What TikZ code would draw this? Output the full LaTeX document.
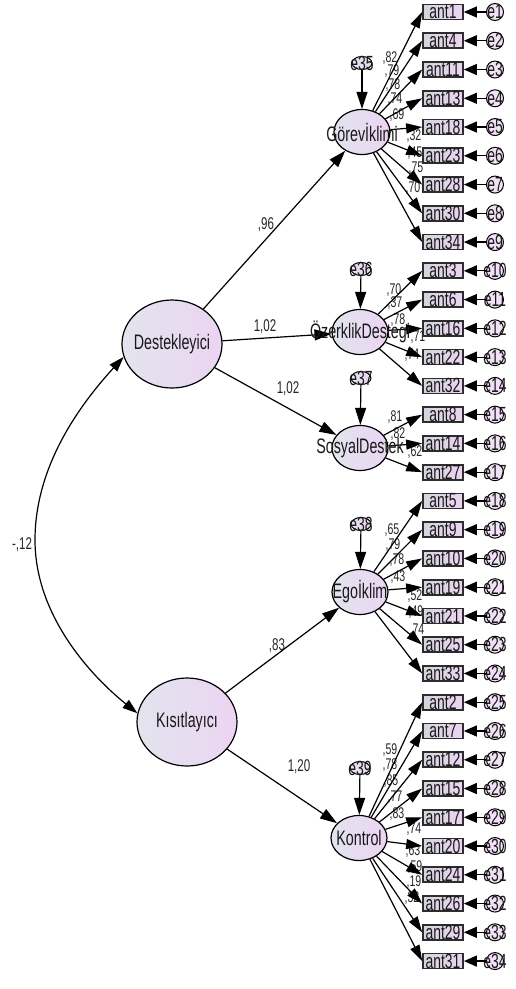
\documentclass[tikz,border=0pt]{standalone}
\usepackage{fontspec}
\setmainfont{Liberation Sans}
\newfontfamily\amos{Liberation Sans}[FakeStretch=0.68]
\usetikzlibrary{shapes.geometric,arrows.meta}
\definecolor{shadeL}{RGB}{226,228,238}
\definecolor{shadeR}{RGB}{236,212,242}
\definecolor{boxedge}{RGB}{45,45,45}

\begin{document}
\begin{tikzpicture}[x=1pt,y=-1pt,
  latent/.style={ellipse,draw=black,line width=1.2pt,left color=shadeL,right color=shadeR,inner sep=0pt},
  smallfac/.style={latent,minimum width=56pt,minimum height=45pt},
  bigfac/.style={latent,minimum width=100pt,minimum height=88pt},
  resid/.style={ellipse,draw=black,line width=1pt,left color=shadeL,right color=shadeR,inner sep=0pt,minimum width=20pt,minimum height=13pt},
  indbox/.style={rectangle,draw=boxedge,line width=1.7pt,left color=shadeL!85!gray,right color=shadeR,inner sep=0pt,minimum width=40pt,minimum height=15pt},
  errc/.style={circle,draw=black,line width=1pt,fill=shadeR!70!white,inner sep=0pt,minimum size=17pt},
  latname/.style={font=\amos\fontsize{21}{23}\selectfont,inner sep=0pt,text=black!90},
  itemtxt/.style={font=\amos\fontsize{20.5}{22}\selectfont,inner sep=0pt,text=black!90},
  loadtxt/.style={font=\amos\fontsize{15.5}{17}\selectfont,inner sep=0pt,text=black!85},
  pathtxt/.style={font=\amos\fontsize{17}{19}\selectfont,inner sep=0pt,text=black!85},
  load/.style={line width=1.2pt,-{Triangle[length=16pt,width=10pt]}},
  reg/.style={line width=1.2pt,-{Triangle[length=17pt,width=11pt]}},
  errarrow/.style={line width=1.2pt,-{Triangle[length=13pt,width=11pt]}},
  cov/.style={line width=1.2pt,{Triangle[length=15pt,width=10pt]}-{Triangle[length=15pt,width=10pt]}}
]
\useasboundingbox (0,0) rectangle (515,989);

% standardised loadings, set first so the arrows run over them
\foreach \t/\x/\y [count=\n] in {
  82/390/58, 79/392/71, 78/393/85, 74/395/99, 69/397/115,
  32/414/136, 45/415/153, 75/416/168, 70/413/188,
  70/394/290, 37/395/303, 78/398/320, 71/418/337, 74/412/355,
  81/395/417, 82/398/434, 62/415/452,
  65/392/530, 79/393/545, 78/397/560, 43/398/577, 52/415/596, 49/416/612, 74/417/630,
  59/390/750, 78/390/765, 85/391/781, 77/395/797, 83/397/814,
  74/414/829, 63/413/851, 59/415/867, 19/414/882, 32/412/898}
  \node[loadtxt] (ld\n) at (\x,\y) {,\t};

% first-order factors
\node[smallfac] (gor) at (362,132) {};
\node[smallfac] (ozk) at (360,332) {};
\node[smallfac] (sos) at (360,448) {};
\node[smallfac] (ego) at (360,592) {};
\node[smallfac] (kon) at (359,838) {};

% second-order factors
\node[bigfac] (des) at (172,344) {};
\node[bigfac] (kis) at (187,722) {};

% disturbances of the first-order factors
\node[resid] (r35) at (362,63) {};
\node[resid] (r36) at (361,269) {};
\node[resid] (r37) at (361,378) {};
\node[resid] (r38) at (361,524) {};
\node[resid] (r39) at (360,768) {};
\foreach \r in {35,...,39} \node[itemtxt] (rt\r) at (r\r) {e\r};

% observed items and their error terms
\foreach \i [count=\k] in {1,4,11,13,18,23,28,30,34,3,6,16,22,32,8,14,27,5,9,10,19,21,25,33,2,7,12,15,17,20,24,26,29,31} {
  \pgfmathsetmacro\yy{12+(\k-1)*28.76}
  \node[indbox] (b\k) at (443,\yy) {};
  \node[itemtxt] (bt\k) at (b\k) {ant\i};
  \node[errc] (c\k) at (495,\yy) {};
  \node[itemtxt] (ct\k) at (c\k) {e\k};
  \draw[errarrow] (c\k) -- (b\k);
}

% factor loadings
\foreach \k in {1,...,9}   \draw[load] (gor) -- (b\k.west);
\foreach \k in {10,...,14} \draw[load] (ozk) -- (b\k.west);
\foreach \k in {15,16,17}  \draw[load] (sos) -- (b\k.west);
\foreach \k in {18,...,24} \draw[load] (ego) -- (b\k.west);
\foreach \k in {25,...,34} \draw[load] (kon) -- (b\k.west);

% disturbance paths
\draw[reg] (r35) -- (gor);
\draw[reg] (r36) -- (ozk);
\draw[reg] (r37) -- (sos);
\draw[reg] (r38) -- (ego);
\draw[reg] (r39) -- (kon);

% structural paths
\draw[reg] (des) -- (gor);
\draw[reg] (des) -- (ozk);
\draw[reg] (des) -- (sos);
\draw[reg] (kis) -- (ego);
\draw[reg] (kis) -- (kon);

% covariance between the second-order factors
\coordinate (covmid) at (35,540);
\draw[cov] (des.195) .. controls (75,410) and (35,470) .. (covmid)
  .. controls (35,615) and (90,675) .. (kis.170);

% factor names
\node[latname] (gort) at (gor) {Görevİklimi};
\node[latname] (ozkt) at (ozk) {ÖzerklikDestegi};
\node[latname] (sost) at (sos) {SosyalDestek};
\node[latname] (egot) at (ego) {Egoİklim};
\node[latname] (kont) at (kon) {Kontrol};
\node[latname] (dest) at (des) {Destekleyici};
\node[latname] (kist) at (kis) {Kısıtlayıcı};

% path coefficients
\node[pathtxt] (p1) at (266,225) {,96};
\node[pathtxt] (p2) at (265,327) {1,02};
\node[pathtxt] (p3) at (288,389) {1,02};
\node[pathtxt] (p4) at (277,646) {,83};
\node[pathtxt] (p5) at (299,767) {1,20};
\node[pathtxt] (p6) at (22,545) {-,12};
\end{tikzpicture}
\end{document}
